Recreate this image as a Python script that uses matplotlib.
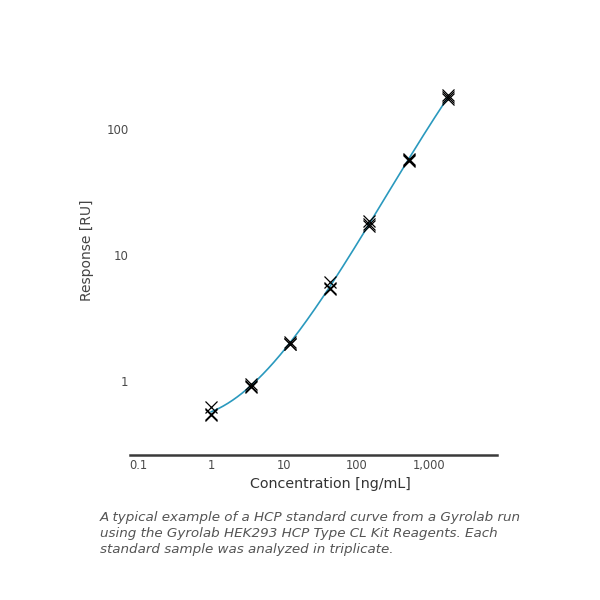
import numpy as np
import matplotlib
matplotlib.use("Agg")
import matplotlib.pyplot as plt
from matplotlib.ticker import FixedLocator, FixedFormatter, NullLocator

# Data (triplicates per standard)
conc = [1.0, 3.5, 12.3, 42.9, 150.0, 525.0, 1838.0]
resp_rep1 = [0.62, 0.95, 2.05, 6.05, 18.6, 58.0, 186.0]
resp_rep2 = [0.55, 0.92, 1.98, 5.50, 17.6, 57.0, 179.0]
resp_rep3 = [0.54, 0.90, 1.95, 5.35, 16.9, 56.0, 172.0]

xticks = [0.1, 1, 10, 100, 1000]
xtick_labels = ["0.1", "1", "10", "100", "1,000"]
yticks = [1, 10, 100]
ytick_labels = ["1", "10", "100"]

caption_lines = ["A typical example of a HCP standard curve from a Gyrolab run",
                 "using the Gyrolab HEK293 HCP Type CL Kit Reagents. Each",
                 "standard sample was analyzed in triplicate."]

fig = plt.figure(figsize=(6, 6), dpi=100)
ax = fig.add_axes([130/600, 1-455/600, 367/600, 370/600])
ax.set_xscale("log")
ax.set_yscale("log")
ax.set_xlim(10**-1.12, 10**3.94)
ax.set_ylim(10**((381-455)/126), 10**((381-85)/126))

# fitted curve (cubic in log-log space)
x_all = np.log10(np.array(conc * 3))
y_all = np.log10(np.array(resp_rep1 + resp_rep2 + resp_rep3))
coef = np.polyfit(x_all, y_all, 3)
xf = np.linspace(np.log10(conc[0]), np.log10(conc[-1]), 300)
ax.plot(10**xf, 10**np.polyval(coef, xf), color="#2a99be", lw=1.2, zorder=2)

for rep in (resp_rep1, resp_rep2, resp_rep3):
    ax.plot(conc, rep, linestyle="none", marker="x", color="black",
            markersize=8.5, markeredgewidth=0.9, zorder=3)

for s in ("top", "right", "left"):
    ax.spines[s].set_visible(False)
ax.spines["bottom"].set_color("#3a3a3a")
ax.spines["bottom"].set_linewidth(1.8)

ax.xaxis.set_major_locator(FixedLocator(xticks))
ax.xaxis.set_major_formatter(FixedFormatter(xtick_labels))
ax.xaxis.set_minor_locator(NullLocator())
ax.yaxis.set_major_locator(FixedLocator(yticks))
ax.yaxis.set_major_formatter(FixedFormatter(ytick_labels))
ax.yaxis.set_minor_locator(NullLocator())
ax.tick_params(axis="x", length=0, pad=3, labelsize=8.3, labelcolor="#4a4a4a")
ax.tick_params(axis="y", length=0, pad=1, labelsize=8.5, labelcolor="#4a4a4a")

fig.text(330/600, 1-484/600, "Concentration [ng/mL]", ha="center", va="center",
         fontsize=10.3, color="#333333")
fig.text(87/600, 1-250/600, "Response [RU]", ha="center", va="center",
         rotation=90, fontsize=10, color="#444444")
for i, line in enumerate(caption_lines):
    fig.text(100/600, 1-(517 + 16*i)/600, line, ha="left", va="center",
             fontsize=9.7, style="italic", color="#555555")

fig.savefig("out.png", dpi=100, facecolor="white")
